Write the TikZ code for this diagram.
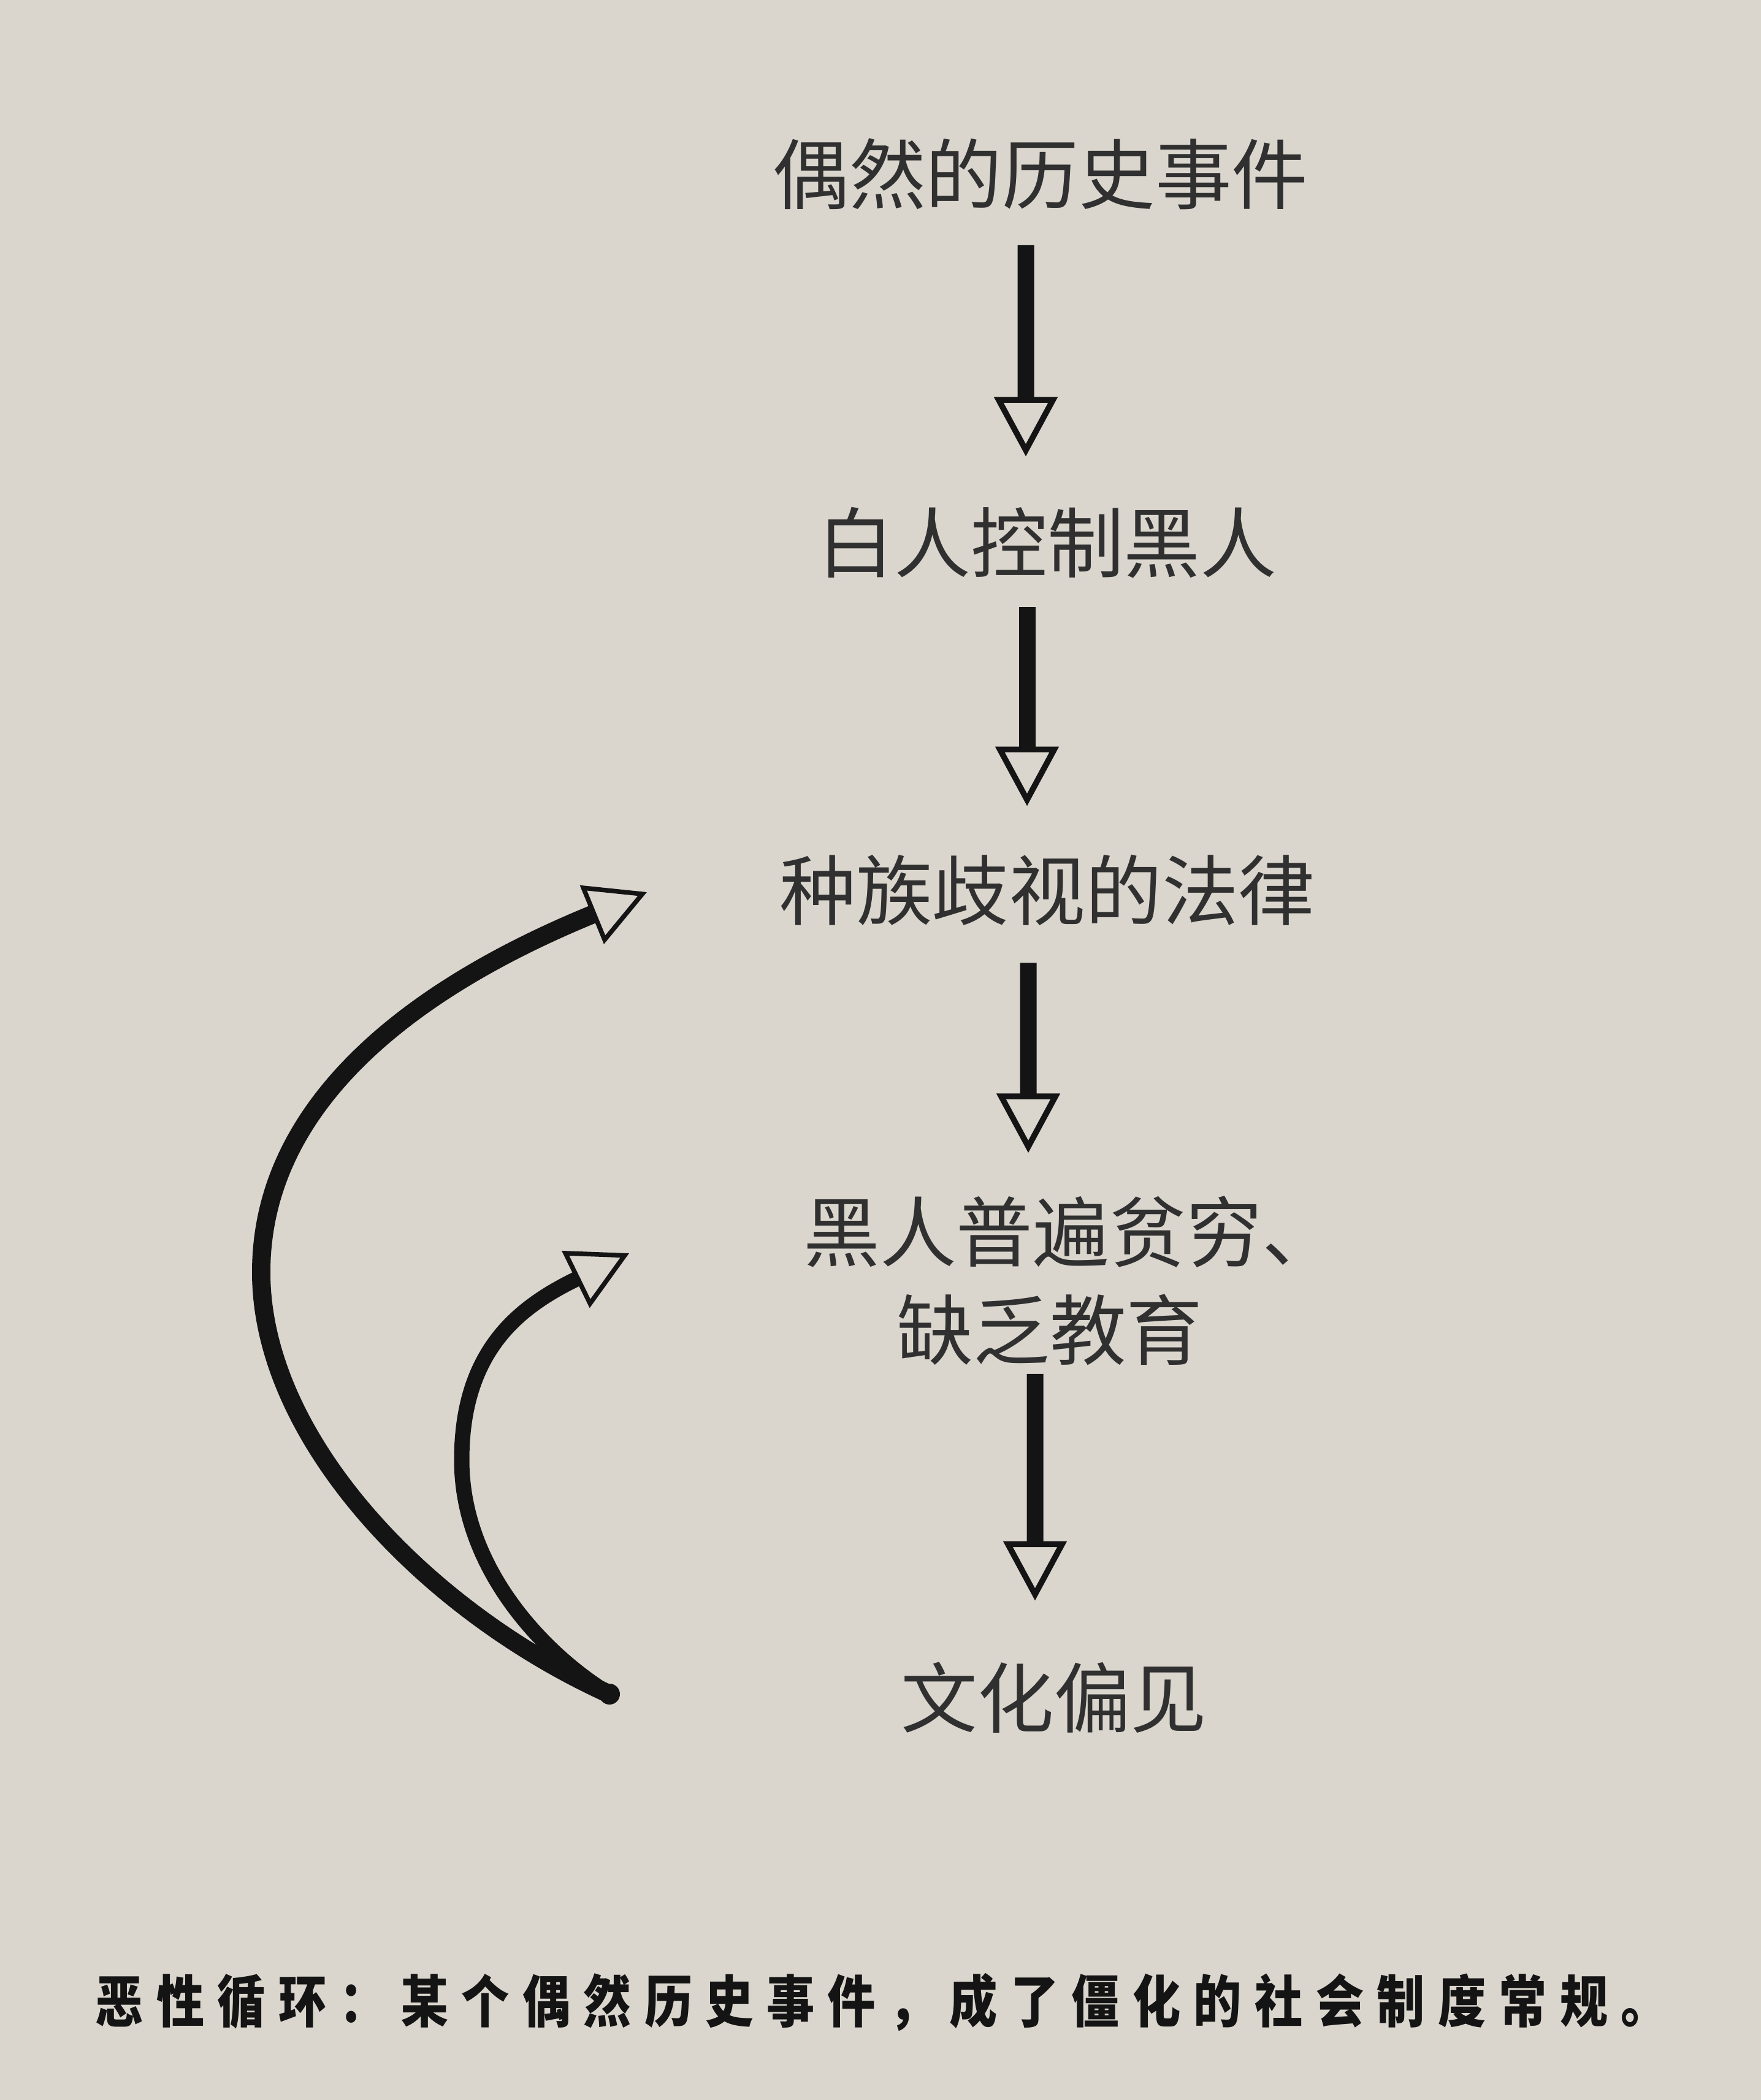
\documentclass[tikz,border=0pt]{standalone}
\usepackage{fontspec}
\usepackage{graphicx}
\usetikzlibrary{arrows.meta}
\newfontfamily\cjk{Noto Sans CJK SC}
\definecolor{paper}{RGB}{218,214,206}
\definecolor{ink}{RGB}{20,20,20}
\definecolor{txt}{RGB}{48,48,48}
\def\capspread#1{\capspreadi#1\relax}
\def\capspreadi#1{#1\futurelet\capnext\capspreadii}
\def\capspreadii{\ifx\capnext\relax\expandafter\capspreadend\else\kern0.25cm\expandafter\capspreadi\fi}
\def\capspreadend\relax{}
\tikzset{
  lbl/.style={font=\cjk\fontsize{35.5pt}{45.5pt}\selectfont, text=txt, inner sep=0pt, align=center},
  captext/.style={font=\cjk\bfseries\fontsize{26.2pt}{30pt}\selectfont, text=ink, inner sep=0pt},
  flow/.style={draw=ink, line width=0.27cm, -{Triangle[open, length=0.97cm, width=1.02cm, line width=0.095cm]}},
  loopline/.style={draw=ink, -{Triangle[open, length=0.97cm, width=1.02cm, line width=0.075cm]}},
}
\begin{document}
\begin{tikzpicture}
\fill[paper] (0,0) rectangle (28.72,-34.25);
\useasboundingbox (0,0) rectangle (28.72,-34.25);

\node[lbl] (n1) at (16.97,-2.84) {偶然的历史事件};
\node[lbl] (n2) at (17.08,-8.85) {白人控制黑人};
\node[lbl] (n3) at (17.08,-14.52) {种族歧视的法律};
\node[lbl] (n4) at (17.12,-20.89) {\kern0.7cm 黑人普遍贫穷、\\缺乏教育};
\node[lbl] (n5) at (17.19,-27.69) {文化偏见};
\node[captext, anchor=west] (caption) at (1.55,-32.65) {\scalebox{0.85}[1]{\capspread{恶性循环：某个偶然历史事件，成了僵化的社会制度常规。}}};

\draw[flow] ([xshift=-2.4mm,yshift=-5.7mm]n1.south) -- ([xshift=-3.5mm,yshift=8.2mm]n2.north);
\draw[flow] ([xshift=-3.3mm,yshift=-4.6mm]n2.south) -- ([xshift=-3.3mm,yshift=7.9mm]n3.north);
\draw[flow] ([xshift=-3.1mm,yshift=-6.0mm]n3.south) -- ([xshift=-3.5mm,yshift=7.0mm]n4.north);
\draw[flow] ([xshift=-2.4mm,yshift=-1.3mm]n4.south) -- ([xshift=-3.1mm,yshift=10.0mm]n5.north);

\coordinate (loopstart) at (9.94,-27.63);
\coordinate (outerend) at (10.55,-14.55);
\coordinate (innerend) at (10.26,-20.44);
\draw[loopline, line width=0.3cm] (loopstart) .. controls (7.0,-26.3) and (4.26,-23.5) .. (4.26,-20.75)
  .. controls (4.26,-17.6) and (7.5,-15.8) .. (outerend);
\draw[loopline, line width=0.25cm] (loopstart) .. controls (8.9,-27.0) and (7.53,-25.6) .. (7.53,-23.81)
  .. controls (7.53,-22.0) and (8.5,-21.3) .. (innerend);
\fill[ink] (loopstart) circle (0.17);
\end{tikzpicture}
\end{document}
